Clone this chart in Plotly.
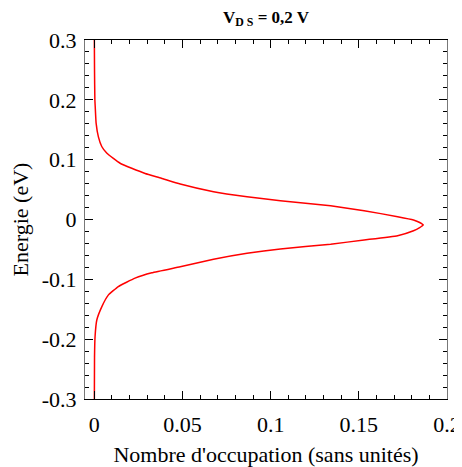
import plotly.graph_objects as go

# Energy (eV) and occupation number (top to bottom)
energie = [0.30, 0.25, 0.20, 0.188, 0.161, 0.138, 0.122, 0.111, 0.102, 0.094,
           0.0856, 0.077, 0.069, 0.0593, 0.0465, 0.0381, 0.0314, 0.0228, 0.0147,
           0.0047, -0.0008, -0.005, -0.0092, -0.0135, -0.0187, -0.027, -0.0343,
           -0.0412, -0.0493, -0.0565, -0.0665, -0.0789, -0.089, -0.098, -0.112,
           -0.126, -0.146, -0.168, -0.196, -0.23, -0.30]
occupation = [0.0, 0.0001, 0.0003, 0.0005, 0.001, 0.0023, 0.0042, 0.007, 0.0108, 0.0146,
              0.0212, 0.0288, 0.038, 0.0487, 0.0676, 0.0866, 0.1055, 0.134, 0.153,
              0.172, 0.181, 0.1845, 0.1865, 0.1845, 0.181, 0.172, 0.153,
              0.134, 0.1055, 0.0866, 0.0676, 0.0487, 0.0326, 0.0231, 0.0136,
              0.008, 0.0042, 0.0014, 0.0004, 0.0001, 0.0]

x_tickvals = [0, 0.05, 0.1, 0.15, 0.2]
x_ticktext = ["0", "0.05", "0.1", "0.15", "0.2"]
y_tickvals = [-0.3, -0.2, -0.1, 0, 0.1, 0.2, 0.3]
y_ticktext = ["-0.3", "-0.2", "-0.1", "0", "0.1", "0.2", "0.3"]

FONT = "Liberation Serif, Times New Roman, Times, serif"

fig = go.Figure()
fig.add_trace(go.Scatter(x=occupation, y=energie, mode="lines",
                         line=dict(color="#ff0000", width=1.5, shape="spline", smoothing=0.4),
                         showlegend=False, hoverinfo="skip"))

axis_common = dict(showgrid=False, zeroline=False, mirror="allticks", ticks="inside",
                   showline=True, linewidth=1.2, ticklen=8, tickwidth=1,
                   tickcolor="black", automargin=False,
                   tickfont=dict(family=FONT, size=22, color="black"),
                   minor=dict(ticks="inside", ticklen=4, tickwidth=1, tickcolor="black"))

fig.update_xaxes(range=[-0.0053, 0.2], tickmode="array", tickvals=x_tickvals,
                 ticktext=x_ticktext, linecolor="black", ticklabelstandoff=5,
                 title=dict(text="Nombre d'occupation (sans unités)",
                            font=dict(family=FONT, size=22, color="black"), standoff=11),
                 **axis_common)
fig.update_xaxes(minor=dict(dtick=0.01, tick0=0))
fig.update_yaxes(range=[-0.3, 0.3], tickmode="array", tickvals=y_tickvals,
                 ticktext=y_ticktext, linecolor="#777777", ticklabelstandoff=3,
                 title=dict(text="Energie (eV)",
                            font=dict(family=FONT, size=22, color="black"), standoff=8),
                 **axis_common)
fig.update_yaxes(minor=dict(dtick=0.02, tick0=0))

# page body adds an 8px margin, so the figure is sized to fit inside the window
fig.update_layout(
    width=454, height=459,
    margin=dict(l=77, r=15, t=32, b=68),
    paper_bgcolor="white", plot_bgcolor="white",
    font=dict(family=FONT, color="black"),
    title=dict(text="<b>V<sub>D S</sub> = 0,2 V</b>", x=0.5, xref="paper",
               xanchor="center", y=1, yref="container", yanchor="top",
               pad=dict(t=3, b=0, l=0, r=0),
               font=dict(family=FONT, size=17, color="black")),
)

fig.write_html("out.html")
